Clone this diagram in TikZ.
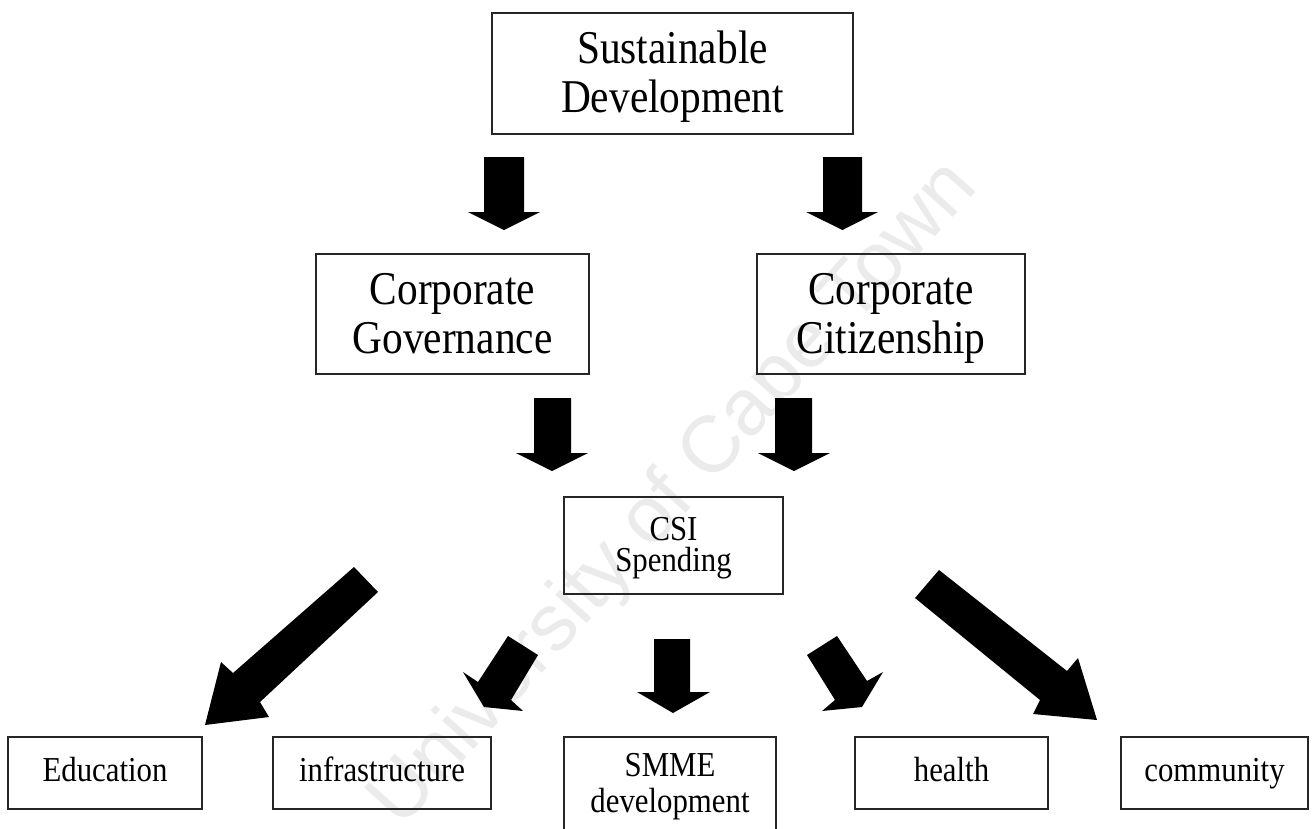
\documentclass[tikz,border=0pt]{standalone}
\usepackage{fontspec}
\setmainfont[FakeStretch=0.88]{Liberation Serif}
\newfontfamily\wmfont{Liberation Sans}
\newcommand\mytop[1]{\rule{0pt}{#1pt}}
\newcommand\mybot[1]{\rule[-#1pt]{0pt}{#1pt}}
\begin{document}
\begin{tikzpicture}[x=1pt,y=-1pt,
  box/.style={draw=black!85, line width=1.1pt, inner sep=0pt, align=center},
  big/.style={font=\fontsize{47}{49}\selectfont},
  small/.style={font=\fontsize{35}{31.5}\selectfont},
  blk/.style={fill=black},
  wmark/.style={rotate=48, text=black!8, font=\wmfont\fontsize{80}{80}\selectfont}]
\useasboundingbox (0,0) rectangle (1314,828);
\fill[white] (0,0) rectangle (1314,828);
\clip (0,0) rectangle (1314,828);
% watermark
\node[wmark] (wm) at (675,495) {University of Cape Town};
% boxes
\node[box,big,minimum width=361pt,minimum height=121pt] (sd) at (672.5,73.5) {\mytop{42}Sustainable\\Development\mybot{13}};
\node[box,big,minimum width=273pt,minimum height=120pt] (cg) at (452.5,314) {\mytop{42}Corporate\\Governance\mybot{13}};
\node[box,big,minimum width=268pt,minimum height=120pt] (cc) at (891,314) {\mytop{42}Corporate\\Citizenship\mybot{13}};
\node[box,small,minimum width=219pt,minimum height=97pt] (csi) at (673.5,545.5) {\mytop{30}CSI\\Spending\mybot{9.5}};
\node[box,small,minimum width=194pt,minimum height=72pt] (edu) at (105,773) {\mytop{30}Education\mybot{14}};
\node[box,small,minimum width=218pt,minimum height=72pt] (inf) at (382,773) {\mytop{30}infrastructure\mybot{14}};
\node[box,small,minimum width=212pt,minimum height=106pt] (smme) at (670,790) {\mytop{26}SMME\\[4.5pt]development\mybot{18}};
\node[box,small,minimum width=193pt,minimum height=72pt] (hea) at (951.5,773) {\mytop{30}health\mybot{14}};
\node[box,small,minimum width=187pt,minimum height=72pt] (com) at (1214.5,773) {\mytop{30}community\mybot{14}};
% block arrows
\fill[blk] (484,157) -- (524,157) -- (524,212) -- (540,212) -- (504,230) -- (468,212) -- (484,212) -- cycle;
\fill[blk] (823,157) -- (862,157) -- (862,212) -- (878,212) -- (842.5,230) -- (806,212) -- (823,212) -- cycle;
\fill[blk] (534,398) -- (571,398) -- (571,453) -- (588,453) -- (552,471) -- (516,453) -- (534,453) -- cycle;
\fill[blk] (775,398) -- (812,398) -- (812,453) -- (830,453) -- (794,471) -- (758,453) -- (775,453) -- cycle;
\fill[blk] (654,639) -- (690,639) -- (690,692) -- (710,692) -- (673,713) -- (637,692) -- (654,692) -- cycle;
% skewed arrows
\fill[blk] (354,567) -- (378,592) -- (260,702) -- (269,717) -- (205,725) -- (221,662) -- (233,673) -- cycle;
\fill[blk] (508,636) -- (538,655) -- (511,700) -- (523,711) -- (484,707) -- (463,672) -- (478,682) -- cycle;
\fill[blk] (837,636) -- (807,655) -- (835,700) -- (822,711) -- (862,707) -- (883,672) -- (867,681) -- cycle;
\fill[blk] (939,570) -- (915,598) -- (1040,700) -- (1033,714) -- (1097,720) -- (1078,658) -- (1067,671) -- cycle;
\end{tikzpicture}
\end{document}
